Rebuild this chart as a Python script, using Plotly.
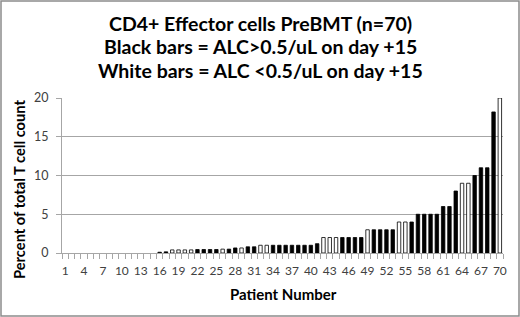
import plotly.graph_objects as go

patients = list(range(1, 71))
values = [0, 0, 0, 0, 0, 0, 0, 0, 0, 0,
          0, 0, 0, 0, 0, 0.1, 0.15, 0.4, 0.4, 0.4,
          0.4, 0.45, 0.45, 0.45, 0.45, 0.5, 0.5, 0.65, 0.65, 0.8,
          0.8, 1.0, 1.0, 1.0, 1.0, 1.0, 1.0, 1.0, 1.0, 1.0,
          1.2, 2, 2, 2, 2, 2, 2, 2, 3, 3,
          3, 3, 3, 4, 4, 4, 5, 5, 5, 5,
          6, 6, 8, 9, 9, 10, 11, 11, 18.2, 20]
# 1 = black bar (ALC>0.5/uL), 0 = white bar (ALC<0.5/uL)
group = [1, 1, 1, 1, 1, 1, 1, 1, 1, 1,
         1, 1, 1, 1, 1, 1, 1, 0, 0, 0,
         0, 1, 1, 1, 1, 0, 1, 1, 0, 1,
         1, 0, 0, 1, 1, 1, 1, 1, 1, 1,
         1, 0, 0, 0, 1, 1, 1, 1, 0, 1,
         1, 1, 1, 0, 0, 1, 1, 1, 1, 1,
         1, 1, 1, 0, 0, 1, 1, 1, 1, 0]
tick_vals = list(range(1, 71, 3))
tick_labels = [str(i) for i in tick_vals]
y_ticks = [0, 5, 10, 15, 20]
title_lines = ["CD4+ Effector cells PreBMT (n=70)",
               "Black bars = ALC>0.5/uL on day +15",
               "White bars = ALC <0.5/uL on day +15"]
x_title = "Patient Number"
y_title = "Percent of total T cell count"

colors = ["black" if g else "white" for g in group]
outline_widths = [0.8 if v > 0 else 0 for v in values]

fig = go.Figure(go.Bar(x=patients, y=values,
                       marker=dict(color=colors, line=dict(color="black", width=outline_widths)),
                       width=0.55))

L, R, T, B = 62, 17, 98, 64
W, H = 520, 317
pw, ph = W - L - R, H - T - B

def px_x(x):
    return (x - L) / pw

def px_y(y):
    return 1 - (y - T) / ph

fig.update_layout(
    width=W, height=H, margin=dict(l=L, r=R, t=T, b=B, autoexpand=False),
    paper_bgcolor="white", plot_bgcolor="white", showlegend=False,
    font=dict(family="Lato, Open Sans, sans-serif", color="#404040"),
)
for i, line in enumerate(title_lines):
    fig.add_annotation(text=line, xref="paper", yref="paper", x=px_x(260), xanchor="center",
                       y=px_y(23 + 24 * i), yanchor="middle", showarrow=False,
                       font=dict(size=19.5, color="black", family="Lato, sans-serif", weight="bold"))
fig.add_annotation(text=x_title, xref="paper", yref="paper", x=px_x(283), xanchor="center",
                   y=px_y(294), yanchor="middle", showarrow=False,
                   font=dict(size=15, color="black", family="Lato, sans-serif", weight="bold"))
fig.add_annotation(text=y_title, xref="paper", yref="paper", x=px_x(19), xanchor="center",
                   y=px_y(190), yanchor="middle", showarrow=False, textangle=-90,
                   font=dict(size=14.7, color="black", family="Lato, sans-serif", weight="bold"))
fig.update_xaxes(range=[0.5, 70.5], tickmode="array", tickvals=tick_vals, ticktext=tick_labels,
                 ticks="", showline=True, linecolor="#a6a6a6", linewidth=1, showgrid=False, zeroline=False,
                 automargin=False, tickfont=dict(size=12, color="#404040"), ticklabelstandoff=7,
                 minor=dict(tickmode="array", tickvals=[i + 0.5 for i in range(0, 71)], ticks="outside",
                            ticklen=5, tickcolor="#a6a6a6", showgrid=False))
fig.update_yaxes(range=[0, 20], tickvals=y_ticks, ticks="outside", ticklen=5, tickcolor="#a6a6a6",
                 showline=True, linecolor="#a6a6a6", linewidth=1, showgrid=True, gridcolor="#a6a6a6",
                 gridwidth=1, zeroline=False, automargin=False, tickfont=dict(size=12.5, color="#404040"),
                 ticklabelstandoff=5)
# outer frame
fig.add_shape(type="rect", xref="paper", yref="paper",
              x0=px_x(1), x1=px_x(W - 1), y0=px_y(H - 1), y1=px_y(1),
              line=dict(color="#8c8c8c", width=1.5), fillcolor="rgba(0,0,0,0)", layer="below")
fig.write_html("out.html", config={"displayModeBar": False},
               post_script="document.body.style.margin='0';")
